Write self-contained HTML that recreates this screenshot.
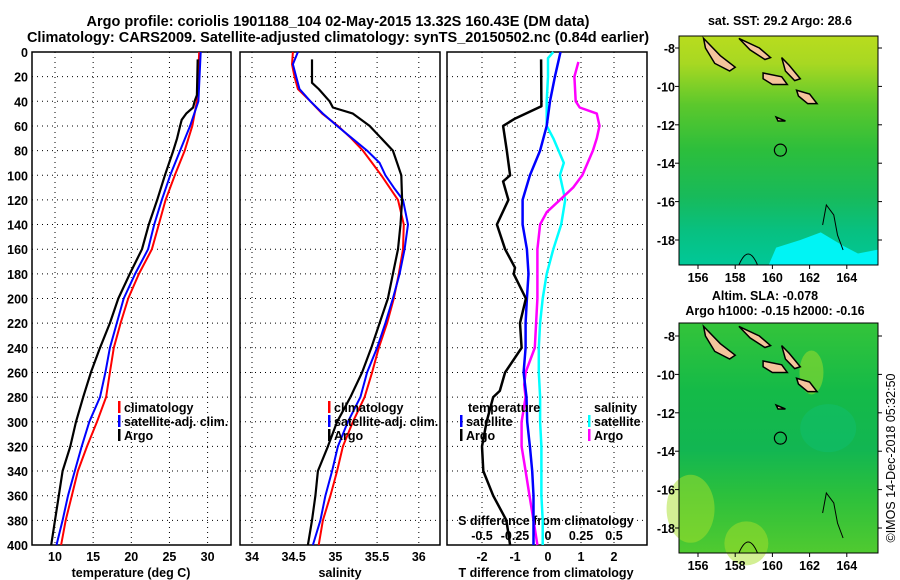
<!DOCTYPE html>
<html><head><meta charset="utf-8"><style>
body{margin:0;background:#fff;}
svg{display:block;font-family:"Liberation Sans",Arial,sans-serif;font-weight:bold;}
</style></head><body>
<svg id="c" width="900" height="580" viewBox="0 0 900 580">
<text x="338" y="26" font-size="14.5" text-anchor="middle">Argo profile: coriolis 1901188_104 02-May-2015 13.32S 160.43E (DM data)</text>
<text x="338" y="42" font-size="14.5" text-anchor="middle">Climatology: CARS2009. Satellite-adjusted climatology: synTS_20150502.nc (0.84d earlier)</text>
</svg>
<script>
const depthTicks=[0,20,40,60,80,100,120,140,160,180,200,220,240,260,280,300,320,340,360,380,400];
const tempDepth=[0,40,60,80,100,120,140,160,180,200,220,240,260,280,300,320,340,360,380,400];
const tempClim=[28.9,28.6,28.0,27.0,25.7,24.5,23.6,22.7,21.0,19.6,18.6,17.7,17.2,16.7,15.5,14.2,13.0,12.2,11.4,10.8];
const tempSat=[29.1,28.8,27.7,26.4,25.1,24.0,23.0,22.2,20.5,19.0,18.1,17.2,16.6,15.9,14.5,13.5,12.6,11.7,11.0,10.2];
const argoDepth=[6,35,40,45,50,55,60,70,80,100,120,140,160,180,200,220,240,260,280,300,320,340,360,380,400];
const tempArgo=[28.7,28.6,28.3,28.1,27.2,26.6,26.4,26.0,25.5,24.4,23.4,22.3,21.4,19.8,18.3,17.2,15.9,14.7,13.7,12.75,12.0,11.0,10.5,10.0,9.5];
const salDepth=[0,10,20,30,40,50,60,70,80,90,100,110,120,140,160,180,200,220,240,260,280,300,320,340,360,380,400];
const salClim=[34.49,34.48,34.51,34.55,34.70,34.84,35.03,35.19,35.33,35.44,35.55,35.65,35.75,35.82,35.81,35.76,35.70,35.62,35.52,35.44,35.35,35.21,35.09,35.02,34.94,34.85,34.80];
const salSat=[34.55,34.49,34.53,34.57,34.70,34.85,35.02,35.20,35.38,35.53,35.60,35.70,35.81,35.87,35.83,35.77,35.69,35.60,35.50,35.38,35.30,35.15,35.03,34.96,34.88,34.82,34.73];
const salArgoDepth=[6,25,30,40,45,50,60,70,80,90,100,120,140,160,180,200,220,240,260,280,300,320,340,360,380,400];
const salArgo=[34.72,34.72,34.80,34.93,34.97,35.21,35.41,35.55,35.69,35.74,35.79,35.80,35.78,35.75,35.69,35.63,35.53,35.43,35.32,35.18,35.02,34.91,34.79,34.76,34.72,34.67];
const tdArgoDepth=[6,44,54,60,80,100,105,120,140,160,175,180,200,220,240,260,275,280,300,320,340,360,380,400];
const tdArgo=[-0.21,-0.2,-1.0,-1.36,-1.25,-1.15,-1.36,-1.2,-1.55,-1.3,-1.0,-1.04,-0.67,-0.85,-0.8,-1.3,-1.46,-1.66,-1.86,-2.0,-1.96,-1.66,-1.26,-1.15];
const tdDepth=[0,20,40,60,80,100,120,140,160,180,200,220,240,260,280,300,320,340,360,380,400];
const tdSat=[0.38,0.21,0.06,-0.04,-0.24,-0.55,-0.77,-0.77,-0.64,-0.59,-0.64,-0.68,-0.68,-0.74,-0.65,-0.63,-0.55,-0.48,-0.44,-0.44,-0.44];
const sdSatDepth=[0,5,20,40,60,70,90,100,120,140,160,180,200,220,240,260,280,300,320,340,360,380,400];
const sdSat=[0.04,0,0,-0.01,-0.01,0.04,0.12,0.09,0.13,0.10,0.04,-0.01,-0.04,-0.06,-0.07,-0.07,-0.06,-0.06,-0.05,-0.05,-0.05,-0.04,-0.04];
const sdArgoDepth=[8,20,40,45,50,60,70,80,100,110,120,130,140,160,180,200,220,240,260,270,280,300,320,340,360,380,400];
const sdArgo=[0.23,0.2,0.21,0.24,0.37,0.39,0.37,0.34,0.26,0.19,0.09,-0.01,-0.06,-0.08,-0.08,-0.08,-0.09,-0.1,-0.17,-0.18,-0.17,-0.2,-0.2,-0.17,-0.14,-0.11,-0.08];
const tTicks=[10,15,20,25,30], sTicks=[34,34.5,35,35.5,36];
const tdTicks=[-2,-1,0,1,2], sdTickLabels=["-0.5","-0.25","0","0.25","0.5"];
const lonTicks=[156,158,160,162,164], latTicks=[-8,-10,-12,-14,-16,-18];

const NS="http://www.w3.org/2000/svg", svg=document.getElementById('c');
function mk(t,a,p){const e=document.createElementNS(NS,t);for(const k in a)e.setAttribute(k,a[k]);(p||svg).appendChild(e);return e;}
const Y=d=>52+d*1.2325;
const xT=t=>55+(t-10)*7.63, xS=s=>252+(s-34)*83.4, xTd=v=>548+v*33, xSd=v=>548+v*132;

function frame(x0,x1,name,vx){
  const g=mk('g',{});
  
  
  depthTicks.forEach(d=>{if(d>0&&d<400){const l=mk('line',{x1:x0,x2:x1,y1:Y(d),y2:Y(d),stroke:'#000','stroke-width':1,'stroke-dasharray':'1,4'},g);
    }});
  vx.forEach(x=>{const l=mk('line',{x1:x,x2:x,y1:52,y2:545,stroke:'#000','stroke-width':1,'stroke-dasharray':'1,4'},g);
    });
  const r=mk('rect',{x:x0,y:52,width:x1-x0,height:493,fill:'none',stroke:'#000','stroke-width':1.5},g);
  
}
function line(xs,ds,fx,col,w,name){
  const pts=xs.map((v,i)=>fx(v).toFixed(1)+','+Y(ds[i]).toFixed(1)).join(' ');
  const p=mk('polyline',{points:pts,fill:'none',stroke:col,'stroke-width':w,'stroke-linejoin':'round'});
  
}
function txt(x,y,s,size,anchor,name,extra){
  const t=mk('text',Object.assign({x:x,y:y,'font-size':size,'text-anchor':anchor||'start'},extra||{}));
  t.textContent=s;return t;
}
depthTicks.forEach(d=>txt(28,Y(d)+5,String(d),12.5,'end','depth-tick-label'));
frame(32,231,'temperature-panel',tTicks.map(xT));
frame(240,440,'salinity-panel',sTicks.map(xS));
frame(447,647,'difference-panel',tdTicks.map(xTd));
tTicks.forEach(t=>txt(xT(t),561,String(t),12.5,'middle','temperature-tick-label'));
sTicks.forEach(s=>txt(xS(s),561,String(s),12.5,'middle','salinity-tick-label'));
tdTicks.forEach((t,i)=>txt(xTd(t),561,String(t),12.5,'middle','t-diff-tick-label'));
sdTickLabels.forEach((s,i)=>txt(xTd(tdTicks[i]),540,s,12.5,'middle','s-diff-tick-label'));
txt(131,577,'temperature (deg C)',12.5,'middle','temperature-axis-title');
txt(340,577,'salinity',12.5,'middle','salinity-axis-title');
txt(546,577,'T difference from climatology',12.5,'middle','t-diff-axis-title');
txt(546,525,'S difference from climatology',12.5,'middle','s-diff-axis-title');
line(tempClim,tempDepth,xT,'#f00',2,'temperature-climatology-line');
line(tempSat,tempDepth,xT,'#00f',2,'temperature-satellite-line');
line(tempArgo,argoDepth,xT,'#000',2.2,'temperature-argo-line');
line(salClim,salDepth,xS,'#f00',2,'salinity-climatology-line');
line(salSat,salDepth,xS,'#00f',2,'salinity-satellite-line');
line(salArgo,salArgoDepth,xS,'#000',2.2,'salinity-argo-line');
line(sdSat,sdSatDepth,xSd,'#0ff',2.5,'s-diff-satellite-line');
line(sdArgo,sdArgoDepth,xSd,'#f0f',2.5,'s-diff-argo-line');
line(tdSat,tdDepth,xTd,'#00f',2.5,'t-diff-satellite-line');
line(tdArgo,tdArgoDepth,xTd,'#000',2.5,'t-diff-argo-line');
function leg(x,y,col,label,name){
  const r=mk('rect',{x:x,y:y-11,width:2.5,height:12,fill:col});
  
  txt(x+6,y,label,12.5,'start',name);
}
leg(118,412,'#f00','climatology','legend-climatology');
leg(118,426,'#00f','satellite-adj. clim.','legend-satellite');
leg(118,440,'#000','Argo','legend-argo');
leg(328,412,'#f00','climatology','legend2-climatology');
leg(328,426,'#00f','satellite-adj. clim.','legend2-satellite');
leg(328,440,'#000','Argo','legend2-argo');
txt(468,412,'temperature',12.5,'start','legend-temperature-heading');
leg(460,426,'#00f','satellite','legend-t-satellite');
leg(460,440,'#000','Argo','legend-t-argo');
txt(594,412,'salinity',12.5,'start','legend-salinity-heading');
leg(588,426,'#0ff','satellite','legend-s-satellite');
leg(588,440,'#f0f','Argo','legend-s-argo');

function map(top,bot,lat8,lat18,kind,name){
  const x0=679,x1=878, lx=l=>698+(l-156)*18.6, ly=la=>lat8+(-8-la)*(lat18-lat8)/10;
  const g=mk('g',{});
  const id='gr'+kind;
  const defs=mk('defs',{},g);
  const lg=mk('linearGradient',{id:id,x1:0,y1:0,x2:0,y2:1},defs);
  const stops=kind==='sst'?[[0,'#b8dc1e'],[0.12,'#a8d822'],[0.3,'#5cc82c'],[0.5,'#2cbe3c'],[0.7,'#18ba5a'],[0.85,'#08c080'],[1,'#00c898']]
                          :[[0,'#34c43a'],[0.3,'#14ba48'],[0.55,'#12b652'],[0.75,'#2cc03c'],[1,'#50ca30']];
  stops.forEach(s=>mk('stop',{offset:s[0],'stop-color':s[1]},lg));
  const bg=mk('rect',{x:x0,y:top,width:x1-x0,height:bot-top,fill:'url(#'+id+')'},g);
  
  if(kind==='sst'){
    const c=mk('polygon',{points:`${lx(159.8)},${bot} ${lx(160.2)},${ly(-18.4)} ${lx(161.5)},${ly(-18.0)} ${lx(162.6)},${ly(-17.6)} ${lx(163.8)},${ly(-18.3)} ${lx(164.6)},${ly(-18.7)} ${x1},${ly(-18.5)} ${x1},${bot}`,fill:'#00f4f4'},g);
    
  } else {
    [[155.6,-17,24,34],[158.6,-18.8,22,22],[162.1,-9.9,12,22]].forEach(p=>{
      const e=mk('ellipse',{cx:lx(p[0]),cy:ly(p[1]),rx:p[2],ry:p[3],fill:'#a8e02a',opacity:0.5},g);
      });
    const e=mk('ellipse',{cx:lx(163),cy:ly(-12.8),rx:28,ry:24,fill:'#10c078',opacity:0.4},g);
    
  }
  const isl=[[[156.3,-7.5],[157.2,-8.4],[158,-9.0],[157.7,-9.2],[156.9,-8.8],[156.4,-8]],[[158.2,-7.5],[159.3,-8.0],[159.9,-8.5],[159.6,-8.6],[158.8,-8.1]],
   [[159.5,-9.3],[160.5,-9.5],[160.8,-9.9],[160.0,-9.9],[159.5,-9.6]],[[160.5,-8.5],[160.9,-8.9],[161.5,-9.6],[161.2,-9.7],[160.7,-9.2]],[[161.3,-10.2],[162.0,-10.4],[162.4,-10.9],[161.9,-10.9],[161.4,-10.5]],[[160.2,-11.6],[160.7,-11.8],[160.3,-11.8]]];
  isl.forEach(p=>{const q=mk('polygon',{points:p.map(v=>lx(v[0])+','+ly(v[1])).join(' '),fill:'#f5c49c',stroke:'#000','stroke-width':1.5},g);
    });
  const reef=mk('polyline',{points:`${lx(162.7)},${bot-40} ${lx(162.9)},${bot-60} ${lx(163.3)},${bot-50} ${lx(163.5)},${bot-30} ${lx(163.8)},${bot-15}`,fill:'none',stroke:'#000','stroke-width':1},g);
  
  const reef2=mk('path',{d:`M${lx(158.2)},${bot} Q${lx(158.7)},${bot-22} ${lx(159.2)},${bot}`,fill:'none',stroke:'#000','stroke-width':1},g);
  
  const ci=mk('circle',{cx:lx(160.43),cy:ly(-13.32),r:6,fill:'none',stroke:'#000','stroke-width':1.2},g);
  
  const fr=mk('rect',{x:x0,y:top,width:x1-x0,height:bot-top,fill:'none',stroke:'#000','stroke-width':1},g);
  
  lonTicks.forEach(l=>{mk('line',{x1:lx(l),x2:lx(l),y1:bot,y2:bot+4,stroke:'#000'},g);txt(lx(l),bot+17,String(l),12.5,'middle','map-lon-label');});
  latTicks.forEach(la=>{mk('line',{x1:x0-4,x2:x0,y1:ly(la),y2:ly(la),stroke:'#000'},g);mk('line',{x1:x1,x2:x1+4,y1:ly(la),y2:ly(la),stroke:'#000'},g);txt(675,ly(la)+5,String(la),12.5,'end','map-lat-label');});
}
map(36,265,48,240,'sst','sst-map');
map(323,553,336,528,'sla','sla-map');
txt(780,25,'sat. SST: 29.2 Argo: 28.6',12.5,'middle','sst-map-title');
txt(765,300,'Altim. SLA: -0.078',12.5,'middle','sla-map-title');
txt(775,315,'Argo h1000: -0.15 h2000: -0.16',12.5,'middle','sla-map-subtitle');
txt(0,0,'©IMOS 14-Dec-2018 05:32:50',12.5,'middle','timestamp',{'font-weight':'normal',transform:'translate(895,458) rotate(-90)'});
</script>
</body></html>
